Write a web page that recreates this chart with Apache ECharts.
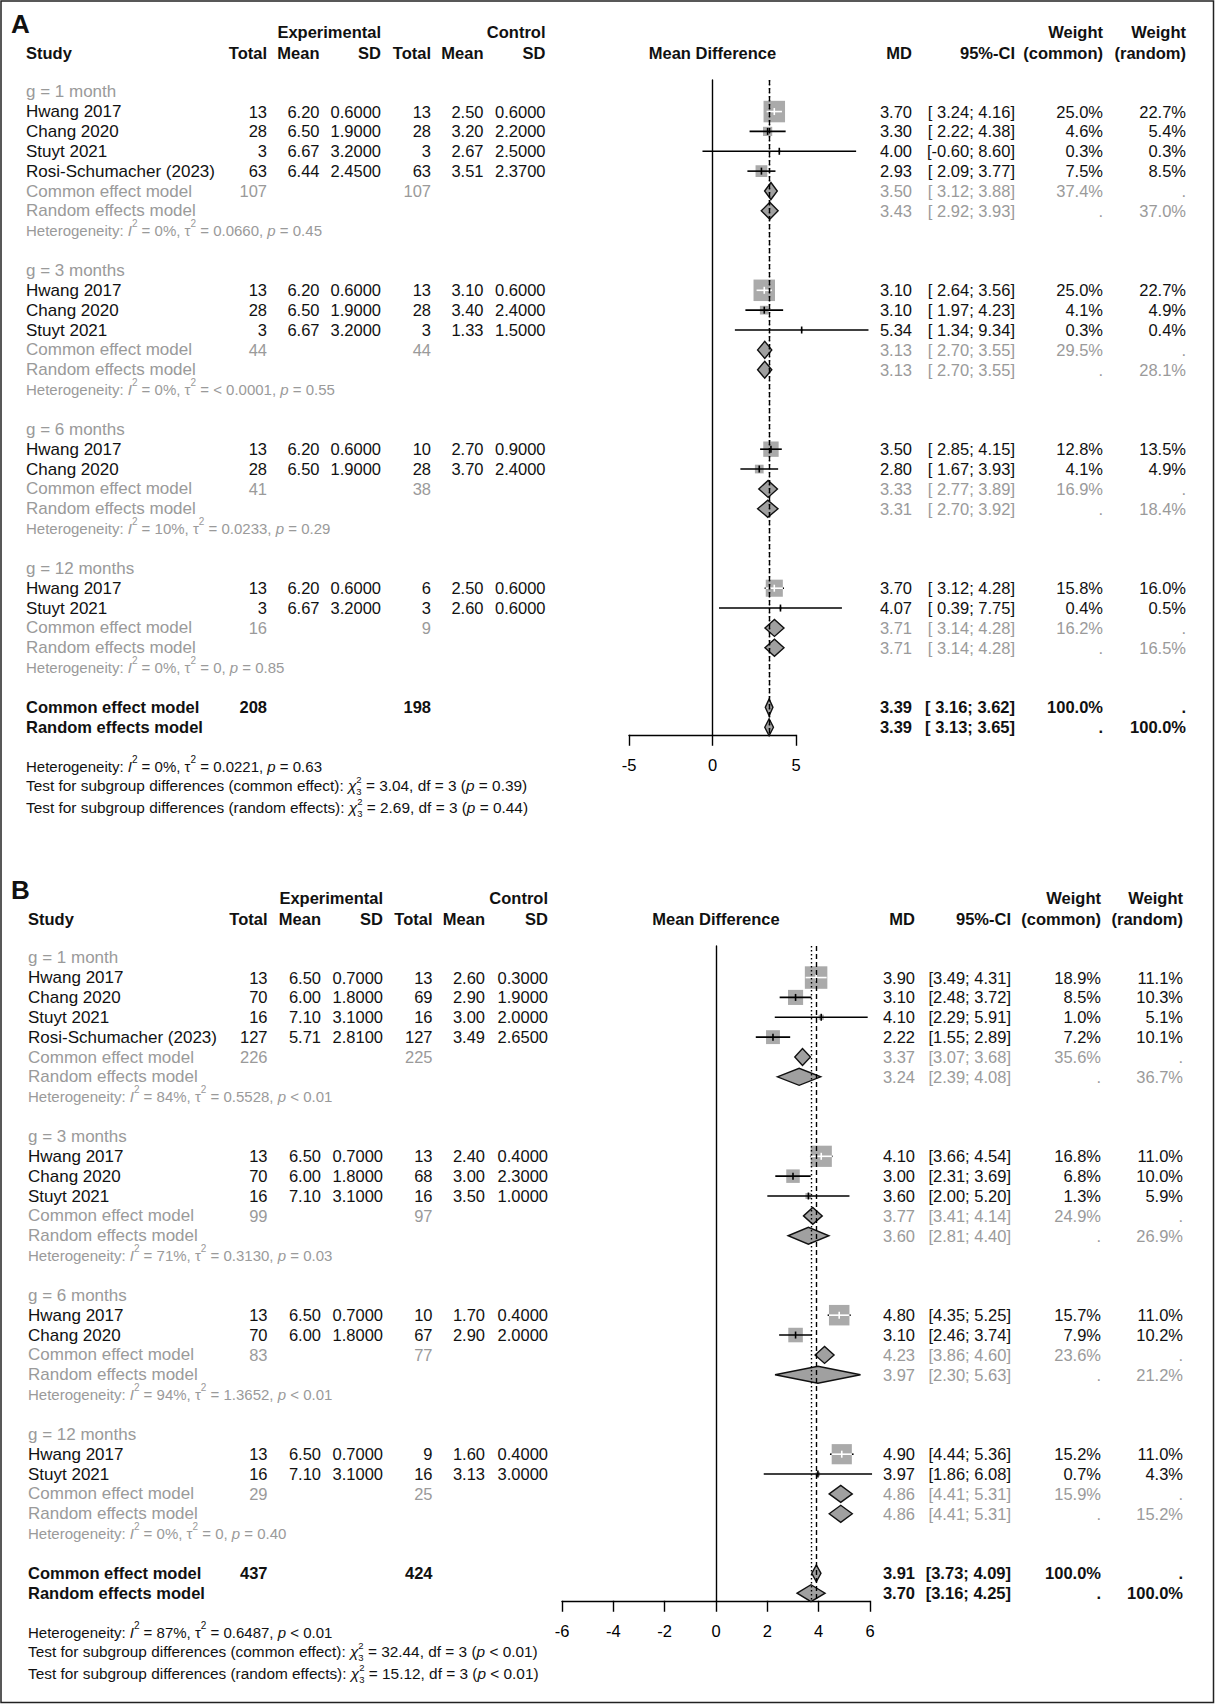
<!DOCTYPE html>
<html><head><meta charset="utf-8">
<script src="https://cdn.jsdelivr.net/npm/echarts@6/dist/echarts.min.js"></script>
<style>html,body{margin:0;padding:0;background:#fff}#c{width:1215px;height:1704px}</style>
</head><body><div id="c"></div>
<script>
// ================= DATA =================
const subgroupLabels = ['g = 1 month', 'g = 3 months', 'g = 6 months', 'g = 12 months'];

// ---- Panel A ----
const A_group     = [0, 0, 0, 0, 1, 1, 1, 2, 2, 3, 3];
const A_study     = ['Hwang 2017', 'Chang 2020', 'Stuyt 2021', 'Rosi-Schumacher (2023)', 'Hwang 2017', 'Chang 2020', 'Stuyt 2021', 'Hwang 2017', 'Chang 2020', 'Hwang 2017', 'Stuyt 2021'];
const A_expTotal  = [13, 28, 3, 63, 13, 28, 3, 13, 28, 13, 3];
const A_expMean   = [6.20, 6.50, 6.67, 6.44, 6.20, 6.50, 6.67, 6.20, 6.50, 6.20, 6.67];
const A_expSD     = [0.6, 1.9, 3.2, 2.45, 0.6, 1.9, 3.2, 0.6, 1.9, 0.6, 3.2];
const A_ctrlTotal = [13, 28, 3, 63, 13, 28, 3, 10, 28, 6, 3];
const A_ctrlMean  = [2.50, 3.20, 2.67, 3.51, 3.10, 3.40, 1.33, 2.70, 3.70, 2.50, 2.60];
const A_ctrlSD    = [0.6, 2.2, 2.5, 2.37, 0.6, 2.4, 1.5, 0.9, 2.4, 0.6, 0.6];
const A_md        = [3.70, 3.30, 4.00, 2.93, 3.10, 3.10, 5.34, 3.50, 2.80, 3.70, 4.07];
const A_lower     = [3.24, 2.22, -0.60, 2.09, 2.64, 1.97, 1.34, 2.85, 1.67, 3.12, 0.39];
const A_upper     = [4.16, 4.38, 8.60, 3.77, 3.56, 4.23, 9.34, 4.15, 3.93, 4.28, 7.75];
const A_wCommon   = [25.0, 4.6, 0.3, 7.5, 25.0, 4.1, 0.3, 12.8, 4.1, 15.8, 0.4];
const A_wRandom   = [22.7, 5.4, 0.3, 8.5, 22.7, 4.9, 0.4, 13.5, 4.9, 16.0, 0.5];
const A_subExpTotal    = [107, 44, 41, 16];
const A_subCtrlTotal   = [107, 44, 38, 9];
const A_subCommonMd    = [3.50, 3.13, 3.33, 3.71];
const A_subCommonLower = [3.12, 2.70, 2.77, 3.14];
const A_subCommonUpper = [3.88, 3.55, 3.89, 4.28];
const A_subCommonW     = [37.4, 29.5, 16.9, 16.2];
const A_subRandomMd    = [3.43, 3.13, 3.31, 3.71];
const A_subRandomLower = [2.92, 2.70, 2.70, 3.14];
const A_subRandomUpper = [3.93, 3.55, 3.92, 4.28];
const A_subRandomW     = [37.0, 28.1, 18.4, 16.5];
const A_subI2   = ['0%', '0%', '10%', '0%'];
const A_subTau2 = ['0.0660', '< 0.0001', '0.0233', '0'];
const A_subP    = ['= 0.45', '= 0.55', '= 0.29', '= 0.85'];
const A_overallTotals = [208, 198];
const A_overallCommon = [3.39, 3.16, 3.62];
const A_overallRandom = [3.39, 3.13, 3.65];
const A_overallHet    = ['0%', '0.0221', '= 0.63'];
const A_testCommon    = ['3.04', '3', '= 0.39'];
const A_testRandom    = ['2.69', '3', '= 0.44'];
const A_ticks = [-5, 0, 5];

// ---- Panel B ----
const B_group     = [0, 0, 0, 0, 1, 1, 1, 2, 2, 3, 3];
const B_study     = ['Hwang 2017', 'Chang 2020', 'Stuyt 2021', 'Rosi-Schumacher (2023)', 'Hwang 2017', 'Chang 2020', 'Stuyt 2021', 'Hwang 2017', 'Chang 2020', 'Hwang 2017', 'Stuyt 2021'];
const B_expTotal  = [13, 70, 16, 127, 13, 70, 16, 13, 70, 13, 16];
const B_expMean   = [6.50, 6.00, 7.10, 5.71, 6.50, 6.00, 7.10, 6.50, 6.00, 6.50, 7.10];
const B_expSD     = [0.7, 1.8, 3.1, 2.81, 0.7, 1.8, 3.1, 0.7, 1.8, 0.7, 3.1];
const B_ctrlTotal = [13, 69, 16, 127, 13, 68, 16, 10, 67, 9, 16];
const B_ctrlMean  = [2.60, 2.90, 3.00, 3.49, 2.40, 3.00, 3.50, 1.70, 2.90, 1.60, 3.13];
const B_ctrlSD    = [0.3, 1.9, 2.0, 2.65, 0.4, 2.3, 1.0, 0.4, 2.0, 0.4, 3.0];
const B_md        = [3.90, 3.10, 4.10, 2.22, 4.10, 3.00, 3.60, 4.80, 3.10, 4.90, 3.97];
const B_lower     = [3.49, 2.48, 2.29, 1.55, 3.66, 2.31, 2.00, 4.35, 2.46, 4.44, 1.86];
const B_upper     = [4.31, 3.72, 5.91, 2.89, 4.54, 3.69, 5.20, 5.25, 3.74, 5.36, 6.08];
const B_wCommon   = [18.9, 8.5, 1.0, 7.2, 16.8, 6.8, 1.3, 15.7, 7.9, 15.2, 0.7];
const B_wRandom   = [11.1, 10.3, 5.1, 10.1, 11.0, 10.0, 5.9, 11.0, 10.2, 11.0, 4.3];
const B_subExpTotal    = [226, 99, 83, 29];
const B_subCtrlTotal   = [225, 97, 77, 25];
const B_subCommonMd    = [3.37, 3.77, 4.23, 4.86];
const B_subCommonLower = [3.07, 3.41, 3.86, 4.41];
const B_subCommonUpper = [3.68, 4.14, 4.60, 5.31];
const B_subCommonW     = [35.6, 24.9, 23.6, 15.9];
const B_subRandomMd    = [3.24, 3.60, 3.97, 4.86];
const B_subRandomLower = [2.39, 2.81, 2.30, 4.41];
const B_subRandomUpper = [4.08, 4.40, 5.63, 5.31];
const B_subRandomW     = [36.7, 26.9, 21.2, 15.2];
const B_subI2   = ['84%', '71%', '94%', '0%'];
const B_subTau2 = ['0.5528', '0.3130', '1.3652', '0'];
const B_subP    = ['< 0.01', '= 0.03', '< 0.01', '= 0.40'];
const B_overallTotals = [437, 424];
const B_overallCommon = [3.91, 3.73, 4.09];
const B_overallRandom = [3.70, 3.16, 4.25];
const B_overallHet    = ['87%', '0.6487', '< 0.01'];
const B_testCommon    = ['32.44', '3', '< 0.01'];
const B_testRandom    = ['15.12', '3', '< 0.01'];
const B_ticks = [-6, -4, -2, 0, 2, 4, 6];

// ================= LAYOUT / STYLE =================
const FONT = "'Liberation Sans', Arial, Helvetica, sans-serif";
const PITCH = 19.86;
const GRAY = '#9a9a9a';
const BLACK = '#111111';
const FS = 16.5, FS_LABEL = 17, FS_HET = 15, FS_TEST = 15.4;
const BOX_FILL = '#aaaaaa', DIA_FILL = '#a0a0a0';
const ROW_TOP = -0.59, ROW_AXIS = 32.38;

const LAYOUT = {
  A: { row0: 91.7, plotLeft: 629, plotWidth: 167, boxMax: 21.5,
       col: { letter: 11, label: 26, expTotal: 267, expMean: 319.5, expSD: 381, ctrlTotal: 431, ctrlMean: 483.5, ctrlSD: 545.5,
              mdHead: 712.5, md: 912, ci: 1015, wc: 1103, wr: 1186 } },
  B: { row0: 957.7, plotLeft: 562, plotWidth: 308, boxMax: 22.5,
       col: { letter: 11, label: 28, expTotal: 267.5, expMean: 321, expSD: 383, ctrlTotal: 432.5, ctrlMean: 485, ctrlSD: 548,
              mdHead: 716, md: 915, ci: 1011, wc: 1101, wr: 1183 } }
};

const panelA = { letter: 'A', group: A_group, study: A_study, expTotal: A_expTotal, expMean: A_expMean, expSD: A_expSD,
  ctrlTotal: A_ctrlTotal, ctrlMean: A_ctrlMean, ctrlSD: A_ctrlSD, md: A_md, lower: A_lower, upper: A_upper,
  wCommon: A_wCommon, wRandom: A_wRandom, subExpTotal: A_subExpTotal, subCtrlTotal: A_subCtrlTotal,
  subCommonMd: A_subCommonMd, subCommonLower: A_subCommonLower, subCommonUpper: A_subCommonUpper, subCommonW: A_subCommonW,
  subRandomMd: A_subRandomMd, subRandomLower: A_subRandomLower, subRandomUpper: A_subRandomUpper, subRandomW: A_subRandomW,
  subI2: A_subI2, subTau2: A_subTau2, subP: A_subP, overallTotals: A_overallTotals, overallCommon: A_overallCommon,
  overallRandom: A_overallRandom, overallHet: A_overallHet, testCommon: A_testCommon, testRandom: A_testRandom, ticks: A_ticks };
const panelB = { letter: 'B', group: B_group, study: B_study, expTotal: B_expTotal, expMean: B_expMean, expSD: B_expSD,
  ctrlTotal: B_ctrlTotal, ctrlMean: B_ctrlMean, ctrlSD: B_ctrlSD, md: B_md, lower: B_lower, upper: B_upper,
  wCommon: B_wCommon, wRandom: B_wRandom, subExpTotal: B_subExpTotal, subCtrlTotal: B_subCtrlTotal,
  subCommonMd: B_subCommonMd, subCommonLower: B_subCommonLower, subCommonUpper: B_subCommonUpper, subCommonW: B_subCommonW,
  subRandomMd: B_subRandomMd, subRandomLower: B_subRandomLower, subRandomUpper: B_subRandomUpper, subRandomW: B_subRandomW,
  subI2: B_subI2, subTau2: B_subTau2, subP: B_subP, overallTotals: B_overallTotals, overallCommon: B_overallCommon,
  overallRandom: B_overallRandom, overallHet: B_overallHet, testCommon: B_testCommon, testRandom: B_testRandom, ticks: B_ticks };

function richStyles(color, fs, lh, smallFs) {
  const base = { fill: color, fontFamily: FONT, fontSize: fs, lineHeight: lh };
  const small = { fill: color, fontFamily: FONT, fontSize: smallFs };
  return {
    n: base,
    i: Object.assign({}, base, { fontStyle: 'italic' }),
    sup: Object.assign({}, small, { verticalAlign: 'top' }),
    supz: Object.assign({}, small, { verticalAlign: 'top', width: 0 }),
    sub: Object.assign({}, small, { verticalAlign: 'bottom' })
  };
}
function hetText(i2, tau2, p) {
  return '{n|Heterogeneity: }{i|I}{sup|2}{n| = ' + i2 + ', τ}{sup|2}{n| = ' + tau2 + ', }{i|p}{n| ' + p + '}';
}
function testText(kind, t) {
  return '{n|Test for subgroup differences (' + kind + '): }{i|χ}{supz|2}{sub|3}{n| = ' + t[0] + ', df = ' + t[1] + ' (}{i|p}{n| ' + t[2] + ')}';
}

function buildPanel(d, L) {
  const C = L.col;
  const cells = [];
  const txt = (row, x, text, o) => { o = o || {}; cells.push({ row, x, text: String(text), align: o.align || 'right',
    color: o.color || BLACK, weight: o.weight || 'normal', size: o.size || FS, rich: o.rich || null }); };
  const f2 = v => v.toFixed(2);
  const allLower = d.lower.concat(d.subCommonLower, d.subRandomLower, [d.overallCommon[1], d.overallRandom[1]]);
  const lowW = Math.max.apply(null, allLower.map(v => f2(v).length));
  const ci = (lo, hi) => '[' + f2(lo).padStart(lowW, ' ') + '; ' + f2(hi) + ']';
  const pct = v => v.toFixed(1) + '%';
  const B = { weight: 'bold' };
  const LBL = { align: 'left', size: FS_LABEL };
  const LBLG = { align: 'left', size: FS_LABEL, color: GRAY };

  txt(-3.42, C.letter, d.letter, { align: 'left', weight: 'bold', size: 26 });
  txt(-3, C.expSD, 'Experimental', B); txt(-3, C.ctrlSD, 'Control', B);
  txt(-3, C.wc, 'Weight', B); txt(-3, C.wr, 'Weight', B);
  const h = -1.95;
  txt(h, C.label, 'Study', { align: 'left', weight: 'bold' });
  txt(h, C.expTotal, 'Total', B); txt(h, C.expMean, 'Mean', B); txt(h, C.expSD, 'SD', B);
  txt(h, C.ctrlTotal, 'Total', B); txt(h, C.ctrlMean, 'Mean', B); txt(h, C.ctrlSD, 'SD', B);
  txt(h, C.mdHead, 'Mean Difference', { align: 'center', weight: 'bold' });
  txt(h, C.md, 'MD', B); txt(h, C.ci, '95%-CI', B); txt(h, C.wc, '(common)', B); txt(h, C.wr, '(random)', B);

  const marks = [], diamonds = [];
  let r = 0;
  const G = { color: GRAY };
  for (let g = 0; g < subgroupLabels.length; g++) {
    txt(r, C.label, subgroupLabels[g], LBLG); r++;
    d.group.forEach((gg, i) => {
      if (gg !== g) return;
      txt(r, C.label, d.study[i], LBL);
      txt(r, C.expTotal, d.expTotal[i]); txt(r, C.expMean, f2(d.expMean[i])); txt(r, C.expSD, d.expSD[i].toFixed(4));
      txt(r, C.ctrlTotal, d.ctrlTotal[i]); txt(r, C.ctrlMean, f2(d.ctrlMean[i])); txt(r, C.ctrlSD, d.ctrlSD[i].toFixed(4));
      txt(r, C.md, f2(d.md[i])); txt(r, C.ci, ci(d.lower[i], d.upper[i]));
      txt(r, C.wc, pct(d.wCommon[i])); txt(r, C.wr, pct(d.wRandom[i]));
      marks.push([d.md[i], r, d.lower[i], d.upper[i], d.wCommon[i]]);
      r++;
    });
    txt(r, C.label, 'Common effect model', LBLG);
    txt(r, C.expTotal, d.subExpTotal[g], G); txt(r, C.ctrlTotal, d.subCtrlTotal[g], G);
    txt(r, C.md, f2(d.subCommonMd[g]), G); txt(r, C.ci, ci(d.subCommonLower[g], d.subCommonUpper[g]), G);
    txt(r, C.wc, pct(d.subCommonW[g]), G); txt(r, C.wr, '.', G);
    diamonds.push([d.subCommonMd[g], r, d.subCommonLower[g], d.subCommonUpper[g]]);
    r++;
    txt(r, C.label, 'Random effects model', LBLG);
    txt(r, C.md, f2(d.subRandomMd[g]), G); txt(r, C.ci, ci(d.subRandomLower[g], d.subRandomUpper[g]), G);
    txt(r, C.wc, '.', G); txt(r, C.wr, pct(d.subRandomW[g]), G);
    diamonds.push([d.subRandomMd[g], r, d.subRandomLower[g], d.subRandomUpper[g]]);
    r++;
    txt(r, C.label, hetText(d.subI2[g], d.subTau2[g], d.subP[g]), { align: 'left', color: GRAY, size: FS_HET, rich: richStyles(GRAY, FS_HET, 25, 10) });
    r += 2;
  }
  txt(r, C.label, 'Common effect model', { align: 'left', weight: 'bold' });
  txt(r, C.expTotal, d.overallTotals[0], B); txt(r, C.ctrlTotal, d.overallTotals[1], B);
  txt(r, C.md, f2(d.overallCommon[0]), B); txt(r, C.ci, ci(d.overallCommon[1], d.overallCommon[2]), B);
  txt(r, C.wc, '100.0%', B); txt(r, C.wr, '.', B);
  diamonds.push([d.overallCommon[0], r, d.overallCommon[1], d.overallCommon[2]]);
  r++;
  txt(r, C.label, 'Random effects model', { align: 'left', weight: 'bold' });
  txt(r, C.md, f2(d.overallRandom[0]), B); txt(r, C.ci, ci(d.overallRandom[1], d.overallRandom[2]), B);
  txt(r, C.wc, '.', B); txt(r, C.wr, '100.0%', B);
  diamonds.push([d.overallRandom[0], r, d.overallRandom[1], d.overallRandom[2]]);

  txt(r + 2, C.label, hetText(d.overallHet[0], d.overallHet[1], d.overallHet[2]), { align: 'left', size: FS_HET, rich: richStyles(BLACK, FS_HET, 25, 10) });
  const trs = richStyles(BLACK, FS_TEST, 22, 9.5);
  txt(r + 2.93, C.label, testText('common effect', d.testCommon), { align: 'left', size: FS_TEST, rich: trs });
  txt(r + 4.05, C.label, testText('random effects', d.testRandom), { align: 'left', size: FS_TEST, rich: trs });
  return { cells, marks, diamonds };
}

const panels = [[panelA, LAYOUT.A], [panelB, LAYOUT.B]];
const grids = [], xAxes = [], yAxes = [], series = [];

panels.forEach(([d, L], idx) => {
  const built = buildPanel(d, L);
  grids.push({ left: L.plotLeft, width: L.plotWidth, top: L.row0 + ROW_TOP * PITCH, height: (ROW_AXIS - ROW_TOP) * PITCH });
  xAxes.push({ gridIndex: idx, type: 'value', min: d.ticks[0], max: d.ticks[d.ticks.length - 1], interval: d.ticks[1] - d.ticks[0],
    axisLine: { onZero: false, lineStyle: { color: '#000', width: 1.4 } },
    axisTick: { show: true, length: 11, lineStyle: { color: '#000', width: 1.4 } },
    axisLabel: { fontSize: FS, color: '#000', fontFamily: FONT, margin: 22 },
    splitLine: { show: false } });
  yAxes.push({ gridIndex: idx, type: 'value', min: ROW_TOP, max: ROW_AXIS, inverse: true,
    axisLine: { show: true, onZero: true, lineStyle: { color: '#000', width: 1.4 } },
    axisTick: { show: false }, axisLabel: { show: false }, splitLine: { show: false } });

  // reference lines for overall effects (random = dotted, common = dashed)
  series.push({ type: 'line', xAxisIndex: idx, yAxisIndex: idx, data: [], z: 1, silent: true,
    markLine: { silent: true, symbol: ['none', 'none'], label: { show: false }, animation: false,
      data: [
        { xAxis: d.overallRandom[0], lineStyle: { type: [1.6, 2.4], color: '#000', width: 1.4 } },
        { xAxis: d.overallCommon[0], lineStyle: { type: [5, 3], color: '#000', width: 1.4 } }
      ] } });

  const wmax = Math.max.apply(null, d.wCommon);
  const boxMax = L.boxMax;
  series.push({ type: 'custom', xAxisIndex: idx, yAxisIndex: idx, z: 3, silent: true, clip: false,
    data: built.marks,
    renderItem: (params, api) => {
      const md = api.value(0), row = api.value(1), lo = api.value(2), hi = api.value(3), w = api.value(4);
      const c = api.coord([md, row]), l = api.coord([lo, row]), h = api.coord([hi, row]);
      const s = boxMax * Math.sqrt(w / wmax);
      const inside = (h[0] - l[0]) <= s * 1.18;
      const ch = [];
      if (inside) ch.push({ type: 'line', shape: { x1: l[0], y1: c[1], x2: h[0], y2: c[1] }, style: { stroke: '#000', lineWidth: 1.6 } });
      ch.push({ type: 'rect', shape: { x: c[0] - s / 2, y: c[1] - s / 2, width: s, height: s }, style: { fill: BOX_FILL } });
      const col = inside ? '#fff' : '#000';
      const x1 = inside ? Math.max(l[0], c[0] - s / 2) : l[0];
      const x2 = inside ? Math.min(h[0], c[0] + s / 2) : h[0];
      ch.push({ type: 'line', shape: { x1: x1, y1: c[1], x2: x2, y2: c[1] }, style: { stroke: col, lineWidth: 1.6 } });
      ch.push({ type: 'line', shape: { x1: c[0], y1: c[1] - 3.5, x2: c[0], y2: c[1] + 3.5 }, style: { stroke: col, lineWidth: 1.6 } });
      return { type: 'group', children: ch };
    } });

  series.push({ type: 'custom', xAxisIndex: idx, yAxisIndex: idx, z: 4, silent: true, clip: false,
    data: built.diamonds,
    renderItem: (params, api) => {
      const md = api.value(0), row = api.value(1), lo = api.value(2), hi = api.value(3);
      const c = api.coord([md, row]), l = api.coord([lo, row]), h = api.coord([hi, row]);
      const hh = 8.5;
      return { type: 'polygon', shape: { points: [[l[0], c[1]], [c[0], c[1] - hh], [h[0], c[1]], [c[0], c[1] + hh]] },
        style: { fill: DIA_FILL, stroke: '#111', lineWidth: 1.4 } };
    } });

  const cells = built.cells;
  series.push({ type: 'custom', xAxisIndex: idx, yAxisIndex: idx, z: 5, silent: true, clip: false,
    data: cells.map(c => [0, c.row]),
    renderItem: (params, api) => {
      const c = cells[params.dataIndex];
      const y = api.coord([0, api.value(1)])[1];
      const style = { text: c.text, fill: c.color, fontSize: c.size, fontFamily: FONT, fontWeight: c.weight,
        align: c.align, verticalAlign: 'middle' };
      if (c.rich) style.rich = c.rich;
      return { type: 'text', x: c.x, y: y, style: style };
    } });
});

const chart = echarts.init(document.getElementById('c'), null, { renderer: 'svg', width: 1215, height: 1704 });
chart.setOption({
  animation: false,
  backgroundColor: '#ffffff',
  grid: grids, xAxis: xAxes, yAxis: yAxes, series: series,
  graphic: [{ type: 'rect', x: 0, y: 0, shape: { x: 1, y: 1, width: 1212.5, height: 1701.5 },
    style: { fill: 'none', stroke: '#222', lineWidth: 1.5 }, z: 10, silent: true }]
});
</script></body></html>
